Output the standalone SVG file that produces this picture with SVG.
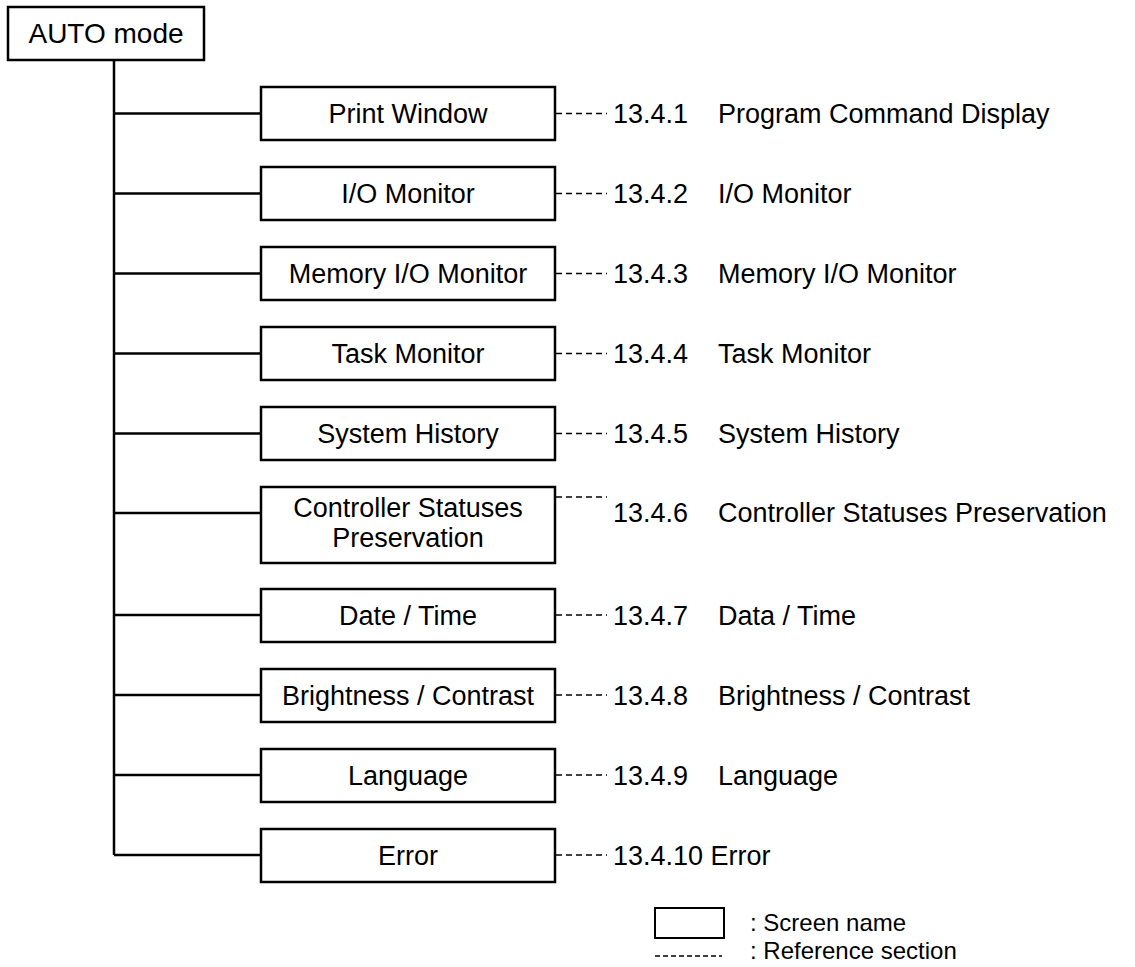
<svg xmlns="http://www.w3.org/2000/svg" width="1135" height="967" viewBox="0 0 1135 967">
<style>
.box{fill:#fff;stroke:#000;stroke-width:2.5}
.ln{fill:none;stroke:#000;stroke-width:2.5}
.dash{fill:none;stroke:#000;stroke-width:1.5;stroke-dasharray:6 4}
text{font-family:"Liberation Sans",Arial,sans-serif;font-size:27px;fill:#000}
.c{text-anchor:middle}
.lg{font-size:24px}
</style>
<rect width="1135" height="967" fill="#fff"/>
<g id="connectors">
<path class="ln" d="M114 60V855"/>
<path class="ln" d="M114 113.5H261M114 193.5H261M114 273.5H261M114 353.5H261M114 433.5H261M114 513H261M114 615H261M114 695H261M114 775H261M114 855H261"/>
<path class="dash" d="M556 113.5H607M556 193.5H607M556 273.5H607M556 353.5H607M556 433.5H607M556 497H607M556 615H607M556 695H607M556 775H607M556 855H607"/>
</g>
<g id="auto"><rect class="box" x="8" y="7" width="196" height="53"/><text x="106" y="43" class="c" style="font-size:28px">AUTO mode</text></g>
<g id="n1"><rect class="box" x="261" y="87" width="294" height="53"/><text x="408" y="123" class="c">Print Window</text></g>
<g id="n2"><rect class="box" x="261" y="167" width="294" height="53"/><text x="408" y="203" class="c">I/O Monitor</text></g>
<g id="n3"><rect class="box" x="261" y="247" width="294" height="53"/><text x="408" y="283" class="c">Memory I/O Monitor</text></g>
<g id="n4"><rect class="box" x="261" y="327" width="294" height="53"/><text x="408" y="363" class="c">Task Monitor</text></g>
<g id="n5"><rect class="box" x="261" y="407" width="294" height="53"/><text x="408" y="443" class="c">System History</text></g>
<g id="n6"><rect class="box" x="261" y="487" width="294" height="76"/><text x="408" y="517" class="c">Controller Statuses</text><text x="408" y="547" class="c">Preservation</text></g>
<g id="n7"><rect class="box" x="261" y="589" width="294" height="53"/><text x="408" y="625" class="c">Date / Time</text></g>
<g id="n8"><rect class="box" x="261" y="669" width="294" height="53"/><text x="408" y="705" class="c">Brightness / Contrast</text></g>
<g id="n9"><rect class="box" x="261" y="749" width="294" height="53"/><text x="408" y="785" class="c">Language</text></g>
<g id="n10"><rect class="box" x="261" y="829" width="294" height="53"/><text x="408" y="865" class="c">Error</text></g>
<g id="refs">
<text x="613" y="123">13.4.1</text><text x="718" y="123">Program Command Display</text>
<text x="613" y="203">13.4.2</text><text x="718" y="203">I/O Monitor</text>
<text x="613" y="283">13.4.3</text><text x="718" y="283">Memory I/O Monitor</text>
<text x="613" y="363">13.4.4</text><text x="718" y="363">Task Monitor</text>
<text x="613" y="443">13.4.5</text><text x="718" y="443">System History</text>
<text x="613" y="522">13.4.6</text><text x="718" y="522">Controller Statuses Preservation</text>
<text x="613" y="625">13.4.7</text><text x="718" y="625">Data / Time</text>
<text x="613" y="705">13.4.8</text><text x="718" y="705">Brightness / Contrast</text>
<text x="613" y="785">13.4.9</text><text x="718" y="785">Language</text>
<text x="613" y="865">13.4.10 Error</text>
</g>
<g id="legend">
<rect class="box" x="655" y="908" width="69" height="30" style="stroke-width:2"/>
<text class="lg" x="750" y="931">: Screen name</text>
<path d="M655 956H722" fill="none" stroke="#000" stroke-width="1.5" stroke-dasharray="5 3"/>
<text class="lg" x="750" y="959">: Reference section</text>
</g>
</svg>
